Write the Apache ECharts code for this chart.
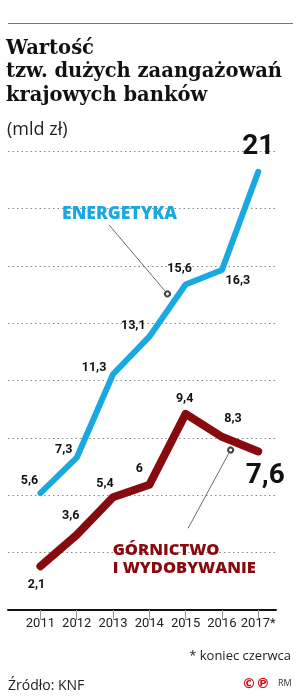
<!DOCTYPE html>
<html><head><meta charset="utf-8">
<script src="https://cdn.jsdelivr.net/npm/echarts@6/dist/echarts.min.js"></script>
<style>html,body{margin:0;padding:0;background:#fff}#c{width:302px;height:699px}</style>
</head><body><div id="c"></div>
<script>
const years = [2011, 2012, 2013, 2014, 2015, 2016, 2017];
const tickLabels = ['2011', '2012', '2013', '2014', '2015', '2016', '2017*'];
const energetyka = [5.6, 7.3, 11.3, 13.1, 15.6, 16.3, 21];
const gornictwo = [2.1, 3.6, 5.4, 6, 9.4, 8.3, 7.6];
const energetykaLabels = ['5,6', '7,3', '11,3', '13,1', '15,6', '16,3', '21'];
const gornictwoLabels = ['2,1', '3,6', '5,4', '6', '9,4', '8,3', '7,6'];

// label offsets (px) relative to points
const eOff = [[-11,-12],[-13,-8],[-19,-6],[-16,-11],[-6,-16],[16,11],[0,-25]];
const gOff = [[-4,19],[-6,-19],[-8,-13],[-10,-16],[-1,-15],[11,-18],[7,25]];

const BLUE = '#1aa8e2', RED = '#870b0e';
const numFont = "'Liberation Sans Narrow','Roboto','Liberation Sans',sans-serif";

function build(vals, labels, off) {
  return vals.map((v, i) => {
    const last = i === vals.length - 1;
    return {
      value: [years[i], v],
      label: {
        show: true, position: 'inside', offset: off[i],
        formatter: labels[i], align: 'center', verticalAlign: 'middle',
        color: '#111', fontWeight: 'bold', fontFamily: numFont,
        fontSize: last ? 28 : 12.5
      }
    };
  });
}

const chart = echarts.init(document.getElementById('c'), null, {renderer: 'canvas'});
chart.setOption({
  animation: false,
  grid: {left: 8, right: 26, top: 151, bottom: 89},
  xAxis: {
    type: 'value', min: 2010.107, max: 2017.49,
    axisLine: {show: true, lineStyle: {color: '#111', width: 2}},
    axisTick: {show: true, customValues: years, length: 10, lineStyle: {color: '#999', width: 1}},
    axisLabel: {show: true, customValues: years, margin: 7,
      formatter: v => tickLabels[years.indexOf(Math.round(v))],
      color: '#222', fontSize: 13, fontFamily: numFont},
    splitLine: {show: false}
  },
  yAxis: {
    type: 'value', min: 0, max: 22, interval: 2.75,
    axisLine: {show: false}, axisTick: {show: false}, axisLabel: {show: false},
    splitLine: {show: true, lineStyle: {color: '#888', type: [1.5, 3], width: 1}}
  },
  series: [
    {
      type: 'line', name: 'ENERGETYKA', data: build(energetyka, energetykaLabels, eOff),
      symbol: 'circle', symbolSize: 1, itemStyle: {color: BLUE},
      lineStyle: {color: BLUE, width: 6, cap: 'round', join: 'round'},
      z: 3,
      markLine: {
        silent: true, animation: false, symbolSize: 5,
        lineStyle: {color: '#444', width: 0.8, type: 'solid'},
        label: {show: false},
        data: [[{coord: [2012.89, 18.46], symbol: 'none'}, {coord: [2014.50, 15.15], symbol: 'emptyCircle'}]]
      },
      markPoint: {
        silent: true, symbol: 'circle', symbolSize: 0,
        data: [{coord: [2013.18, 18.98], label: {show: true, formatter: 'ENERGETYKA', position: 'inside',
          color: BLUE, fontWeight: 800, fontSize: 17.5, fontFamily: "'Open Sans',sans-serif"}}]
      }
    },
    {
      type: 'line', name: 'GÓRNICTWO I WYDOBYWANIE', data: build(gornictwo, gornictwoLabels, gOff),
      symbol: 'circle', symbolSize: 1, itemStyle: {color: RED},
      lineStyle: {color: RED, width: 8, cap: 'round', join: 'round'},
      z: 3,
      markLine: {
        silent: true, animation: false, symbolSize: 5,
        lineStyle: {color: '#444', width: 0.8, type: 'solid'},
        label: {show: false},
        data: [[{coord: [2015.07, 3.92], symbol: 'none'}, {coord: [2016.24, 7.67], symbol: 'emptyCircle'}]]
      },
      markPoint: {
        silent: true, symbol: 'circle', symbolSize: 0,
        data: [{coord: [2012.99, 2.44], label: {show: true, formatter: 'GÓRNICTWO\nI WYDOBYWANIE',
          position: 'inside', align: 'left', verticalAlign: 'middle', lineHeight: 18,
          color: RED, fontWeight: 800, fontSize: 16.5, fontFamily: "'Open Sans',sans-serif"}}]
      }
    }
  ],
  graphic: [
    {type: 'line', shape: {x1: 8, y1: 23.5, x2: 293, y2: 23.5}, style: {stroke: '#777', lineWidth: 1}},
    {type: 'text', left: 6, top: 37, style: {text: 'Wartość\ntzw. dużych zaangażowań\nkrajowych banków',
      font: "bold 19.5px 'DejaVu Serif', serif", lineHeight: 23.5, fill: '#111'}},
    {type: 'text', left: 7, top: 121, style: {text: '(mld zł)', font: "18px 'Open Sans', sans-serif", fill: '#222'}},
    {type: 'text', right: 11, top: 650, style: {text: '* koniec czerwca', font: "13px 'Open Sans', sans-serif", fill: '#222'}},
    {type: 'text', left: 8, top: 679, style: {text: 'Źródło: KNF', font: "14px 'Open Sans', sans-serif", fill: '#222'}},
    {type: 'text', left: 242, top: 677, style: {text: '©℗', font: "bold 14px 'DejaVu Sans', sans-serif", fill: '#d0101a'}},
    {type: 'text', left: 278, top: 679, style: {text: 'RM', font: "9px 'Open Sans', sans-serif", fill: '#333'}}
  ]
});
</script></body></html>
